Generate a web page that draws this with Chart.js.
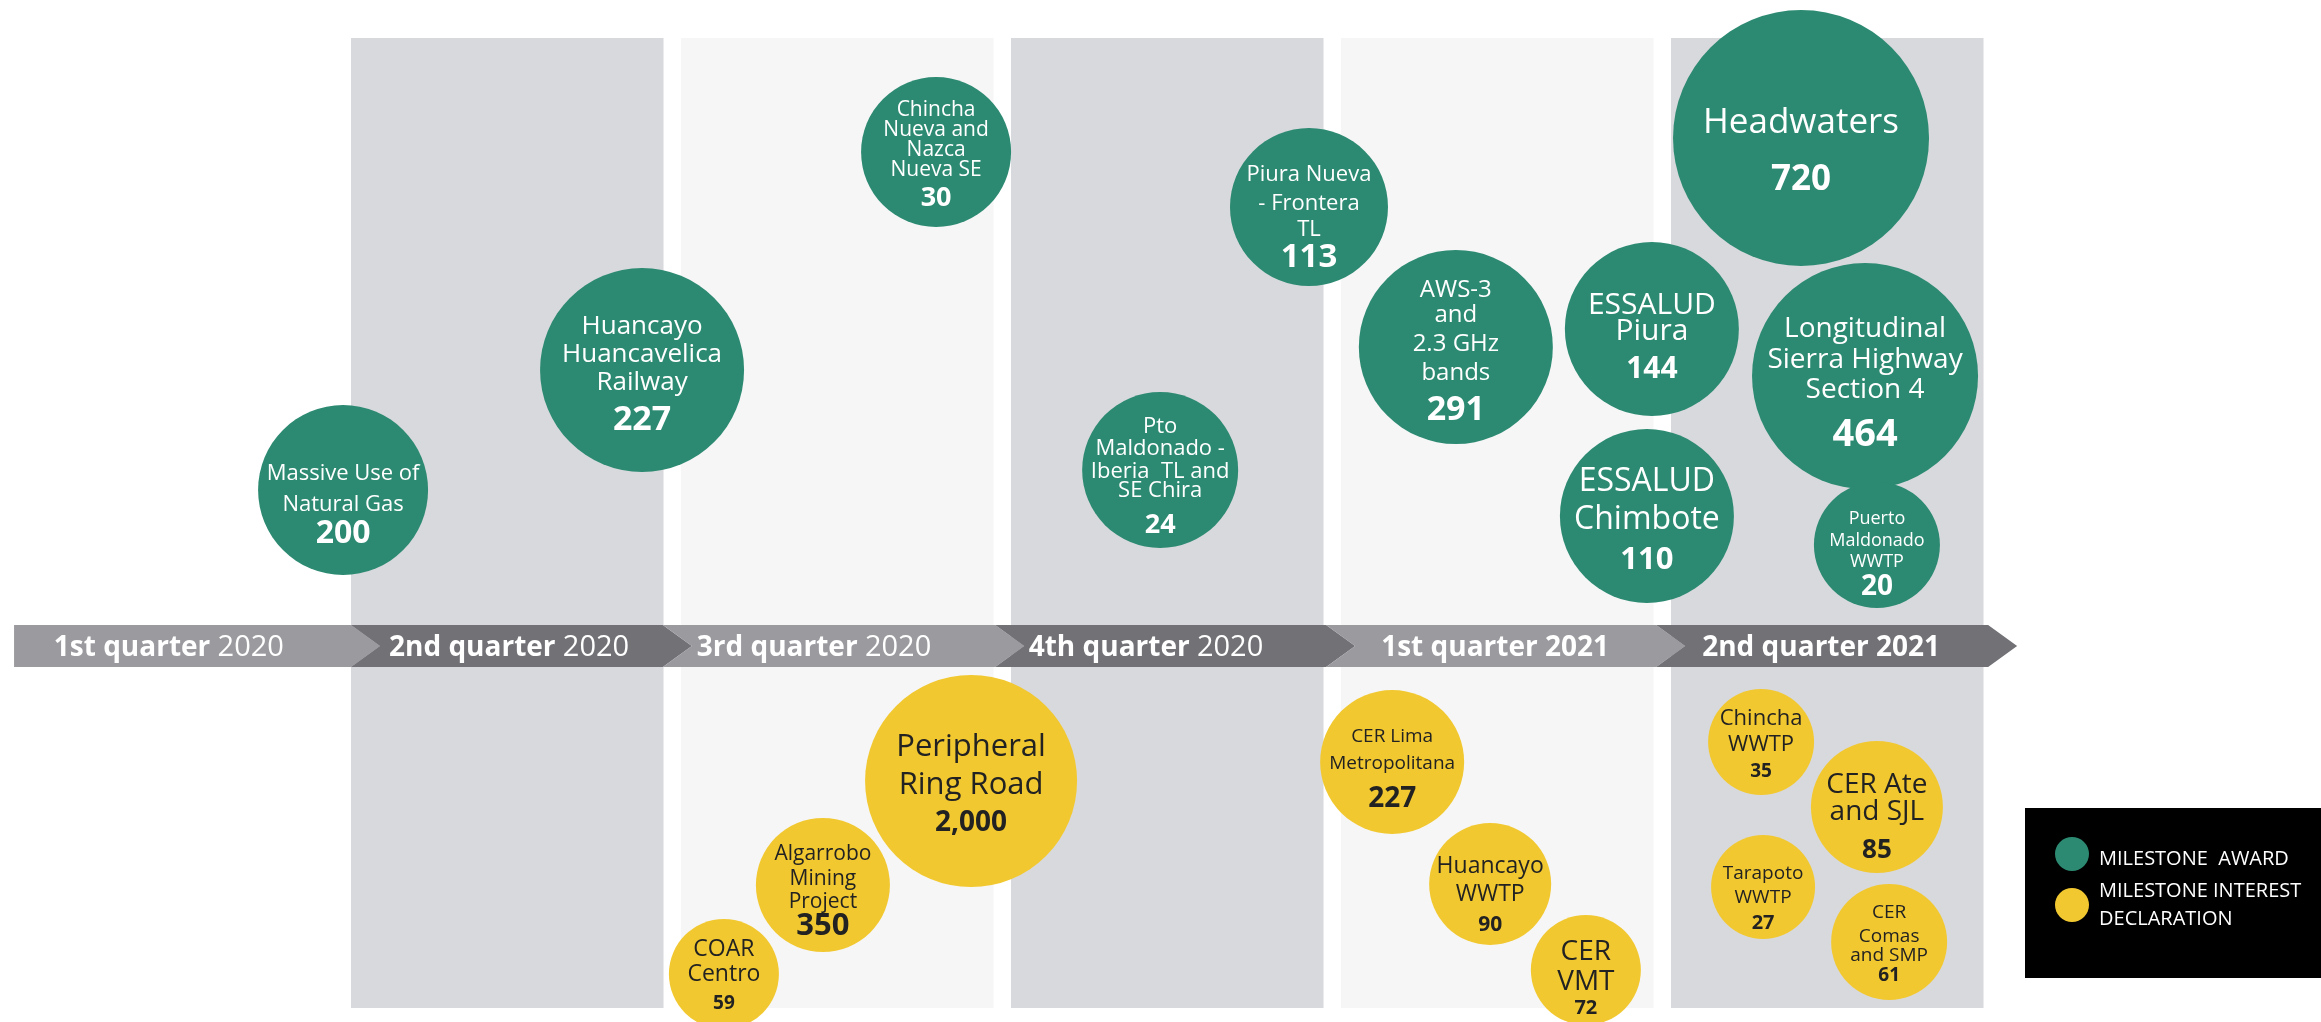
<!DOCTYPE html>
<html><head><meta charset="utf-8">
<script src="https://cdn.jsdelivr.net/npm/chart.js@4.4.1/dist/chart.umd.min.js"></script>
<style>html,body{margin:0;padding:0;background:#fff;overflow:hidden}#wrap{width:2321px;height:1022px;position:relative}</style>
</head><body><div id="wrap"><canvas id="c"></canvas></div>
<script>
// ---------- DATA ----------
const quarters = ["1st quarter 2020","2nd quarter 2020","3rd quarter 2020","4th quarter 2020","1st quarter 2021","2nd quarter 2021"];
const seriesLabels = ["MILESTONE  AWARD", "MILESTONE INTEREST\nDECLARATION"];

const awardNames = ["Massive Use of\nNatural Gas","Huancayo\nHuancavelica\nRailway","Chincha\nNueva and\nNazca\nNueva SE","Pto\nMaldonado -\nIberia  TL and\nSE Chira","Piura Nueva\n- Frontera\nTL","AWS-3\nand\n2.3 GHz\nbands","ESSALUD\nPiura","ESSALUD\nChimbote","Headwaters","Longitudinal\nSierra Highway\nSection 4","Puerto\nMaldonado\nWWTP"];
const awardValues = [200,227,30,24,113,291,144,110,720,464,20];
const awardQuarter = [0,1,2,3,3,4,4,4,5,5,5];

const interestNames = ["Peripheral\nRing Road","Algarrobo\nMining\nProject","COAR\nCentro","CER Lima\nMetropolitana","Huancayo\nWWTP","CER\nVMT","Chincha\nWWTP","CER Ate\nand SJL","Tarapoto\nWWTP","CER\nComas\nand SMP"];
const interestValues = [2000,350,59,227,90,72,35,85,27,61];
const interestQuarter = [2,2,2,4,4,4,5,5,5,5];

// ---------- LAYOUT (positions along timeline in quarter units, height above/below timeline, bubble radius) ----------
const awardX = [0.976,1.882,2.773,3.452,3.903,4.348,4.942,4.927,5.394,5.588,5.624];
const awardY = [156,276,494,176,439,299,317,130,508,270,101];
const awardR = [85,102,75,78,79,97,87,87,128,113,63];
const awardDy = [[-18,13,42],[-45,-17,11,48],[-43,-23,-3,17,44],[-45,-23,0,19,53],[-34,-5,21,48],[-59,-34,-5,24,61],[-26,0,38],[-36,2,42],[-17,40],[-49,-18,12,56],[-27,-5,16,40]];
const awardFont = [[22,32],[26,34],[21,27],[22,27],[22,33],[24,34],[30,30],[32,31],[35,35],[28,38],[18,28]];

const interestX = [2.879,2.430,2.130,4.155,4.452,4.742,5.273,5.624,5.279,5.661];
const interestY = [-135,-239,-328,-116,-238,-324,-96,-161,-241,-296];
const interestR = [106,67,55,72,61,55,53,66,52,58];
const interestDy = [[-36,2,40],[-32,-7,16,39],[-26,-1,28],[-27,0,35],[-19,9,40],[-20,10,37],[-25,1,28],[-24,3,42],[-15,9,35],[-31,-7,12,32]];
const interestFont = [[31,28],[21,31],[23,19],[19,28],[23,21],[28,20],[22,19],[28,26],[19,20],[19,19]];

const XMIN = -21/330, XMAX = 2300/330, YMIN = -376, YMAX = 646;
const colWidth = 0.947, colTop = 608, colBottom = -362;
const colFill = ["#d8d9dd","#f6f6f6","#d8d9dd","#f6f6f6","#d8d9dd"];
const segBounds = [-0.021,1.0,1.945,2.952,3.955,4.955,5.961];
const segFill = ["#9b9a9f","#727176","#9b9a9f","#727176","#9b9a9f","#727176"];
const labelX = [0.448,1.479,2.403,3.409,4.467,5.455];
const yearBold = [false,false,false,false,true,true];

const GREEN = "#2c8a72", YELLOW = "#f2c830", DARKTXT = "#222222";
const FONT = '"Open Sans", "DejaVu Sans", sans-serif';

// ---------- PLUGINS ----------
const backgroundPlugin = {
  id:'bg',
  beforeDatasetsDraw(chart){
    const {ctx, scales:{x,y}} = chart;
    ctx.save();
    colFill.forEach((c,i)=>{
      const q = i+1;
      const l = x.getPixelForValue(q), r = x.getPixelForValue(q+colWidth);
      const t = y.getPixelForValue(colTop), b = y.getPixelForValue(colBottom);
      ctx.fillStyle = c; ctx.fillRect(l,t,r-l,b-t);
    });
    const top = y.getPixelForValue(21), bot = y.getPixelForValue(-21), mid = y.getPixelForValue(0);
    const tip = 29;
    for(let k=0;k<segFill.length;k++){
      const L = x.getPixelForValue(segBounds[k]), R = x.getPixelForValue(segBounds[k+1]);
      ctx.beginPath();
      ctx.moveTo(L,top); ctx.lineTo(R,top); ctx.lineTo(R+tip,mid); ctx.lineTo(R,bot); ctx.lineTo(L,bot);
      if(k>0) ctx.lineTo(L+tip,mid);
      ctx.closePath(); ctx.fillStyle = segFill[k]; ctx.fill();
    }
    ctx.fillStyle = "#ffffff"; ctx.textBaseline = 'alphabetic';
    const size = 28, base = mid + 0.357*size;
    quarters.forEach((q,i)=>{
      const parts = q.split(' ');
      const first = parts.slice(0,2).join(' ') + ' ';
      const year = parts[2];
      const fBold = `bold ${size}px ${FONT}`;
      const fYear = yearBold[i] ? fBold : `${size+1}px ${FONT}`;
      ctx.font = fBold; const w1 = ctx.measureText(first).width;
      ctx.font = fYear; const w2 = ctx.measureText(year).width;
      const cx = x.getPixelForValue(labelX[i]);
      const sx = cx - (w1+w2)/2;
      ctx.textAlign = 'left';
      ctx.font = fBold; ctx.fillText(first, sx, base);
      ctx.font = fYear; ctx.fillText(year, sx + w1, base);
    });
    ctx.restore();
  }
};

const textSets = [
  {names:awardNames, values:awardValues, dy:awardDy, font:awardFont, color:"#ffffff"},
  {names:interestNames, values:interestValues, dy:interestDy, font:interestFont, color:DARKTXT}
];
const bubbleTextPlugin = {
  id:'btext',
  afterDatasetsDraw(chart){
    const ctx = chart.ctx;
    ctx.save(); ctx.textAlign='center'; ctx.textBaseline='alphabetic';
    textSets.forEach((s,di)=>{
      const meta = chart.getDatasetMeta(di);
      meta.data.forEach((el,j)=>{
        const lines = s.names[j].split('\n');
        const [fs, vs] = s.font[j];
        ctx.fillStyle = s.color;
        ctx.font = `${fs}px ${FONT}`;
        lines.forEach((t,k)=> ctx.fillText(t, el.x, el.y + s.dy[j][k] + 0.357*fs));
        ctx.font = `bold ${vs}px ${FONT}`;
        ctx.fillText(s.values[j].toLocaleString('en-US'), el.x, el.y + s.dy[j][lines.length] + 0.357*vs);
      });
    });
    ctx.restore();
  }
};

const legendPlugin = {
  id:'legbox',
  afterDraw(chart){
    const ctx = chart.ctx;
    ctx.save();
    ctx.fillStyle = "#000"; ctx.fillRect(2025,808,296,170);
    const rows = [{cy:854, ty:[858]}, {cy:905, ty:[890,918]}];
    chart.data.datasets.forEach((d,i)=>{
      ctx.beginPath(); ctx.arc(2072, rows[i].cy, 17, 0, Math.PI*2); ctx.fillStyle = d.backgroundColor; ctx.fill();
      ctx.fillStyle = "#fff"; ctx.font = `20px ${FONT}`; ctx.textAlign='left'; ctx.textBaseline='alphabetic';
      seriesLabels[i].split('\n').forEach((t,k)=> ctx.fillText(t, 2099, rows[i].ty[k] + 0.357*20));
    });
    ctx.restore();
  }
};

// ---------- CHART ----------
new Chart(document.getElementById('c'), {
  type:'bubble',
  data:{ datasets:[
    {label:seriesLabels[0], data:awardValues.map((v,i)=>({x:awardX[i], y:awardY[i], r:awardR[i], quarter:quarters[awardQuarter[i]], value:v})), backgroundColor:GREEN, borderWidth:0, clip:false},
    {label:seriesLabels[1], data:interestValues.map((v,i)=>({x:interestX[i], y:interestY[i], r:interestR[i], quarter:quarters[interestQuarter[i]], value:v})), backgroundColor:YELLOW, borderWidth:0, clip:false}
  ]},
  options:{
    responsive:true, maintainAspectRatio:false, animation:false, events:[],
    layout:{padding:0, autoPadding:false},
    scales:{ x:{type:'linear', min:XMIN, max:XMAX, display:false}, y:{type:'linear', min:YMIN, max:YMAX, display:false} },
    plugins:{ legend:{display:false}, tooltip:{enabled:false} }
  },
  plugins:[backgroundPlugin, bubbleTextPlugin, legendPlugin]
});
</script></body></html>
